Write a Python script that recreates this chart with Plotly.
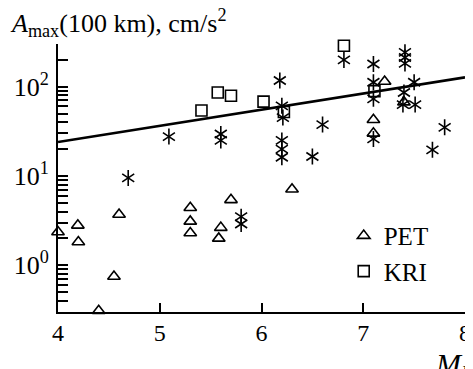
import plotly.graph_objects as go

# Asterisk points (unlabelled series)
ast_m = [4.69, 5.09, 5.60, 5.60, 5.80, 5.80, 6.18, 6.20, 6.21, 6.20, 6.20, 6.20,
         6.50, 6.60, 6.81, 7.10, 7.10, 7.10, 7.10, 7.41, 7.41, 7.41, 7.40, 7.39,
         7.51, 7.50, 7.80, 7.68]
ast_a = [9.5, 27.6, 29.5, 25, 3.5, 2.9, 117, 61, 45, 25, 20, 16.2,
         16.5, 37.6, 199, 179, 112, 73, 26, 242, 212, 182, 86, 63,
         63, 112, 35, 19.6]

# PET (triangles)
pet_m = [4.00, 4.195, 4.20, 4.40, 4.55, 4.60, 5.30, 5.30, 5.30, 5.58, 5.60, 5.70,
         6.30, 7.10, 7.10, 7.21, 7.40]
pet_a = [2.36, 2.8, 1.82, 0.31, 0.75, 3.7, 4.4, 3.1, 2.3, 2.0, 2.64, 5.4,
         7.1, 42.5, 30, 114, 67]

# KRI (squares)
kri_m = [5.41, 5.57, 5.70, 6.02, 6.22, 6.81, 7.11]
kri_a = [54, 86, 79, 68, 52, 287, 89]

# Regression line
line_m = [4, 8]
line_a = [24, 127]

# Y tick labels
ytick_vals = [0.3, 0.4, 0.5, 0.6, 0.7, 0.8, 0.9,
              1, 2, 3, 4, 5, 6, 7, 8, 9,
              10, 20, 30, 40, 50, 60, 70, 80, 90,
              100, 200, 300]
ytick_labels = {1: "10<sup>0</sup>", 10: "10<sup>1</sup>", 100: "10<sup>2</sup>"}
xtick_vals = [4, 5, 6, 7, 8]

FONT = "Liberation Serif"

fig = go.Figure()

fig.add_trace(go.Scatter(x=line_m, y=line_a, mode="lines",
                         line=dict(color="black", width=2.6),
                         showlegend=False, hoverinfo="skip"))

for sym in ["y-up-open", "y-down-open"]:
    fig.add_trace(go.Scatter(x=ast_m, y=ast_a, mode="markers",
                             marker=dict(symbol=sym, size=10, color="black",
                                         line=dict(color="black", width=1.6)),
                             showlegend=False, cliponaxis=False))

fig.add_trace(go.Scatter(x=pet_m, y=pet_a, mode="markers", name="PET",
                         marker=dict(symbol="triangle-up-open", size=11, color="black",
                                     line=dict(color="black", width=1.6)),
                         cliponaxis=False))
fig.add_trace(go.Scatter(x=kri_m, y=kri_a, mode="markers", name="KRI",
                         marker=dict(symbol="square-open", size=11, color="black",
                                     line=dict(color="black", width=1.6)),
                         cliponaxis=False))

# the page body adds an 8px offset, so the figure is drawn 8px smaller
fig.update_layout(
    width=465, height=361,
    margin=dict(l=50, r=8, t=36, b=57),
    paper_bgcolor="white", plot_bgcolor="white",
    font=dict(family=FONT, color="black", size=22),
    showlegend=True,
    legend=dict(x=0.702, y=0.37, xanchor="left", yanchor="top",
                bgcolor="rgba(0,0,0,0)", font=dict(family=FONT, size=25),
                tracegroupgap=0, itemwidth=30),
    xaxis=dict(range=[4, 8], tickvals=xtick_vals, ticktext=[str(v) for v in xtick_vals],
               ticks="inside", ticklen=9, tickwidth=1.6, tickcolor="black",
               showline=True, linecolor="black", linewidth=2,
               showgrid=False, zeroline=False, automargin=False,
               ticklabelstandoff=-2,
               tickfont=dict(family=FONT, size=24)),
    yaxis=dict(type="log", range=[-0.5229, 2.4771],
               tickvals=ytick_vals,
               ticktext=[ytick_labels.get(v, "") for v in ytick_vals],
               ticks="inside", ticklen=10, tickwidth=1.6, tickcolor="black",
               showline=True, linecolor="black", linewidth=2,
               showgrid=False, zeroline=False, automargin=False,
               ticklabelstandoff=2,
               tickfont=dict(family=FONT, size=26)),
)

fig.add_annotation(text="<i>A</i><sub>max</sub>(100 km), cm/s<sup>2</sup>",
                   xref="paper", yref="paper", x=-0.123, y=1.0,
                   xanchor="left", yanchor="bottom", yshift=1,
                   showarrow=False, font=dict(family=FONT, size=26))
fig.add_annotation(text="<i>M</i><sub><i>LH</i></sub>",
                   xref="paper", yref="paper", x=0.922, y=0,
                   xanchor="left", yanchor="top", yshift=-33,
                   showarrow=False, font=dict(family=FONT, size=30))

fig.write_html("out.html")
